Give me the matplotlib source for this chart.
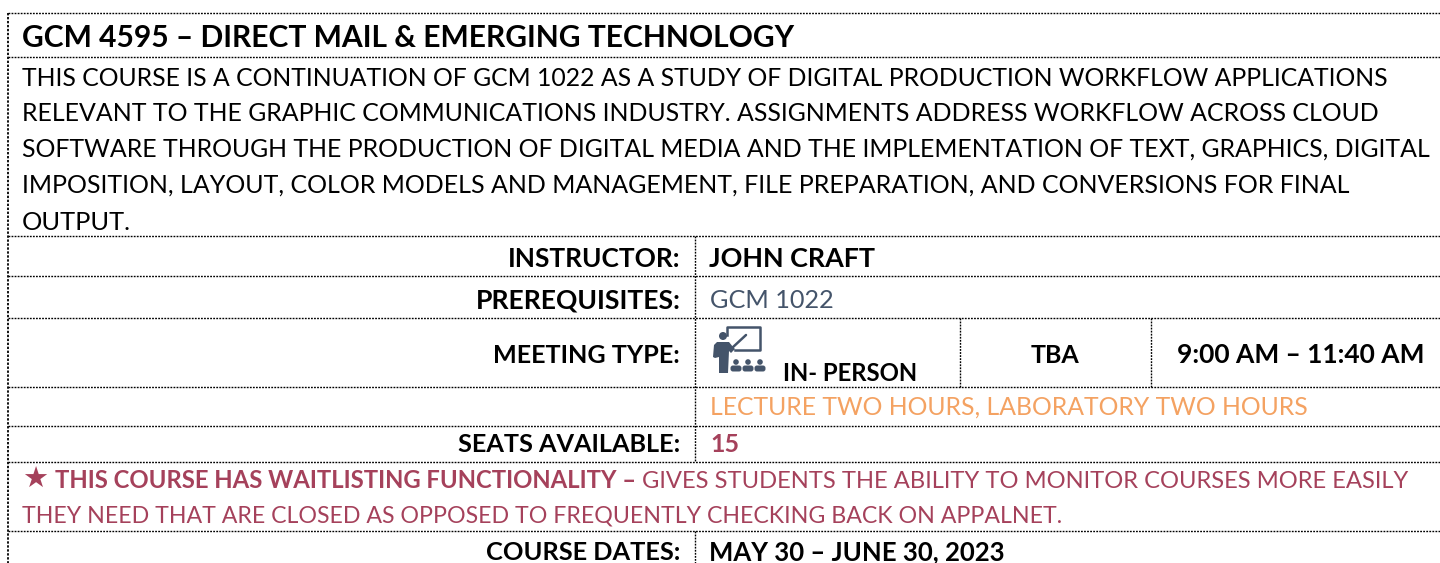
import matplotlib
matplotlib.use('Agg')
import matplotlib.pyplot as plt
from matplotlib.patches import Circle, FancyBboxPatch, Polygon

plt.rcParams['font.family'] = ['Lato', 'DejaVu Sans']

BLACK = '#000000'
SLATE = '#44546A'
ORANGE = '#F4A262'
MAROON = '#A5415B'

# text, left, right, baseline, bold, colour
title_row = [('GCM 4595 – DIRECT MAIL & EMERGING TECHNOLOGY', 22, 796, 47, True, BLACK)]
description_rows = [
    ('THIS COURSE IS A CONTINUATION OF GCM 1022 AS A STUDY OF DIGITAL PRODUCTION WORKFLOW APPLICATIONS', 22, 1392, 86, False, BLACK),
    ('RELEVANT TO THE GRAPHIC COMMUNICATIONS INDUSTRY. ASSIGNMENTS ADDRESS WORKFLOW ACROSS CLOUD', 22, 1378, 121, False, BLACK),
    ('SOFTWARE THROUGH THE PRODUCTION OF DIGITAL MEDIA AND THE IMPLEMENTATION OF TEXT, GRAPHICS, DIGITAL', 22, 1433, 157, False, BLACK),
    ('IMPOSITION, LAYOUT, COLOR MODELS AND MANAGEMENT, FILE PREPARATION, AND CONVERSIONS FOR FINAL', 22, 1354, 193, False, BLACK),
    ('OUTPUT.', 22, 131, 230, False, BLACK),
]
detail_rows = [
    ('INSTRUCTOR:', 508, 681, 267, True, BLACK),
    ('JOHN CRAFT', 709, 875, 267, True, BLACK),
    ('PREREQUISITES:', 476, 681, 308, True, BLACK),
    ('GCM 1022', 710, 834, 308, False, SLATE),
    ('MEETING TYPE:', 493, 680, 363, True, BLACK),
    ('IN- PERSON', 783, 918, 381, True, BLACK),
    ('TBA', 1031, 1080, 363, True, BLACK),
    ('9:00 AM – 11:40 AM', 1177, 1424, 363, True, BLACK),
    ('LECTURE TWO HOURS, LABORATORY TWO HOURS', 710, 1309, 415, False, ORANGE),
    ('SEATS AVAILABLE:', 458, 681, 452, True, BLACK),
    ('15', 710, 739, 452, True, MAROON),
    ('THIS COURSE HAS WAITLISTING FUNCTIONALITY –', 55, 637, 488, True, MAROON),
    ('GIVES STUDENTS THE ABILITY TO MONITOR COURSES MORE EASILY', 642, 1408, 488, False, MAROON),
    ('THEY NEED THAT ARE CLOSED AS OPPOSED TO FREQUENTLY CHECKING BACK ON APPALNET.', 22, 1063, 523, False, MAROON),
    ('COURSE DATES:', 486, 681, 560, True, BLACK),
    ('MAY 30 – JUNE 30, 2023', 709, 1005, 560, True, BLACK),
]

# table rules: position, start, end
h_rules = [(13, 8, 1440), (57, 8, 1440), (236, 8, 1440), (276, 8, 1440), (318, 8, 1440),
           (387, 8, 1440), (426, 8, 1440), (462, 8, 1440), (531, 8, 1440)]
v_rules = [(8, 13, 563), (695, 236, 462), (695, 531, 563),
           (960, 318, 387), (1151, 318, 387)]

fig = plt.figure(figsize=(14.4, 5.63), dpi=100)
ax = fig.add_axes([0, 0, 1, 1])
ax.set_xlim(0, 1440)
ax.set_ylim(563, 0)
ax.axis('off')

dots = (0, (1.3, 0.9))
for y, x0, x1 in h_rules:
    ax.plot([x0, x1], [y, y], color='black', lw=1.0, ls=dots)
for x, y0, y1 in v_rules:
    ax.plot([x, x], [y0, y1], color='black', lw=1.3 if x == 8 else 1.0, ls=dots)

# fit each line to the width it has in the reference
renderer = fig.canvas.get_renderer()
for label, left, right, base, bold, colour in title_row + description_rows + detail_rows:
    t = ax.text(left, base, label, color=colour, fontsize=16, va='baseline', ha='left',
                fontweight='bold' if bold else 'normal')
    width = t.get_window_extent(renderer).width
    t.set_fontsize(16 * (right - left) / width)

ax.text(35, 480, '★', color=MAROON, fontsize=21, ha='center', va='center', family='DejaVu Sans')

# instructor icon
ax.plot([727, 727, 760, 760, 735], [335, 327, 327, 350, 350], color=SLATE, lw=1.8,
        solid_joinstyle='round')
ax.plot([732, 746], [348, 335], color=SLATE, lw=1.8, solid_capstyle='round')
ax.add_patch(Circle((723, 336), 4, color=SLATE, lw=0))
ax.add_patch(Polygon([(714, 345), (717, 342), (729, 342), (733, 347), (735, 349), (731, 353),
                      (729, 351), (728, 373), (719, 373), (719, 357), (715, 358), (713, 357)],
                     color=SLATE, lw=0))
for cx in (736, 748, 760):
    ax.add_patch(Circle((cx, 362), 2.8, color=SLATE, lw=0))
    ax.add_patch(FancyBboxPatch((cx - 5.5, 365.5), 11, 6, boxstyle='round,pad=0,rounding_size=2.5',
                                color=SLATE, lw=0))

fig.savefig('out.png', dpi=100)
